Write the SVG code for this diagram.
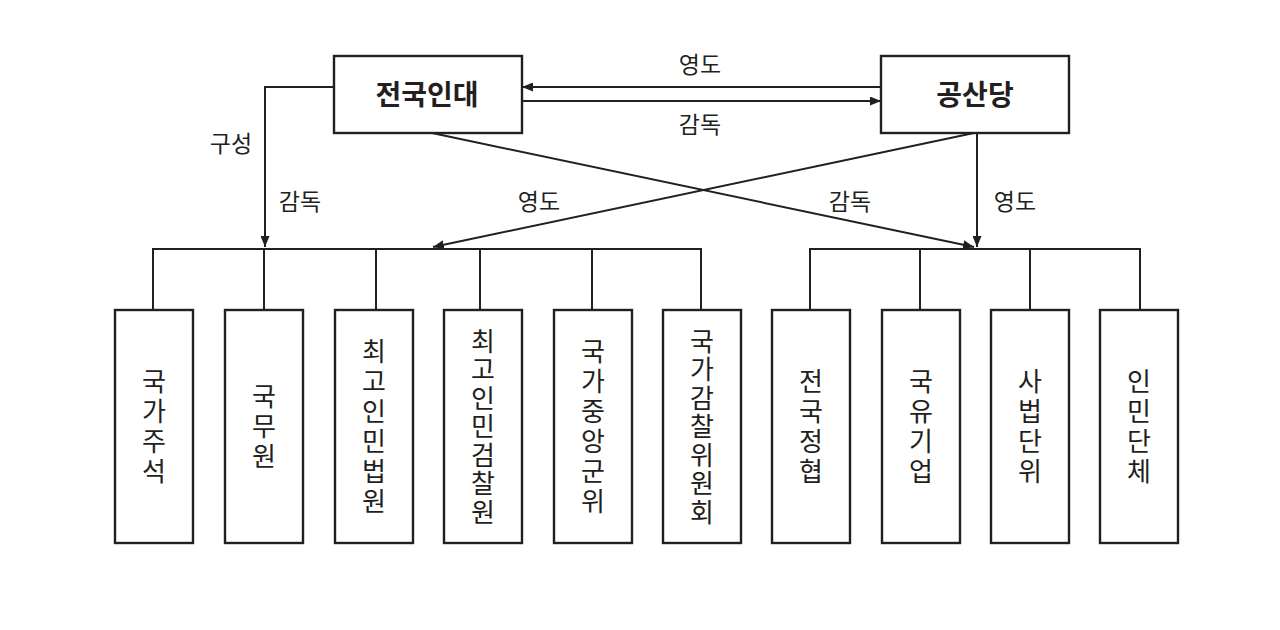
<svg xmlns="http://www.w3.org/2000/svg" width="1280" height="630" viewBox="0 0 1280 630">
<defs>
<marker id="ah" markerUnits="userSpaceOnUse" markerWidth="11" markerHeight="9" refX="11" refY="4.5" orient="auto">
<path d="M0,0 L11,4.5 L0,9 z" fill="#231f20"/>
</marker>
<style>
.box{fill:#fff;stroke:#231f20;stroke-width:2.4}
.ln{fill:none;stroke:#231f20;stroke-width:2}
.ar{fill:none;stroke:#231f20;stroke-width:2;marker-end:url(#ah)}
.t{font-family:"Noto Sans CJK KR","Noto Sans",sans-serif;fill:#231f20;text-anchor:middle}
.top{font-size:28px;font-weight:bold}
.lbl{font-size:23px}
.v{font-size:26px;writing-mode:vertical-rl;text-orientation:upright;letter-spacing:4px}
.v7{letter-spacing:2.5px}
</style>
</defs>
<rect width="1280" height="630" fill="#fff"/>
<g id="connectors">
<path class="ar" d="M881,87 H522"/>
<path class="ar" d="M522,101 H881"/>
<path class="ar" d="M333,87 H265 V247"/>
<path class="ar" d="M432,133 L974,247"/>
<path class="ar" d="M974,133 L433,247"/>
<path class="ar" d="M977,133 V247"/>
<path class="ln" d="M153,310 V249 H701 V310 M264,249 V310 M376,249 V310 M480,249 V310 M592,249 V310"/>
<path class="ln" d="M810,310 V249 H1140 V310 M920,249 V310 M1030,249 V310"/>
<text class="t lbl" x="700" y="73">영도</text>
<text class="t lbl" x="700" y="133">감독</text>
<text class="t lbl" x="231" y="152">구성</text>
<text class="t lbl" x="300" y="210">감독</text>
<text class="t lbl" x="539" y="210">영도</text>
<text class="t lbl" x="850" y="210">감독</text>
<text class="t lbl" x="1015" y="210">영도</text>
</g>
<g id="n-npc"><rect class="box" x="334" y="56" width="188" height="77"/><text class="t top" x="427" y="105">전국인대</text></g>
<g id="n-party"><rect class="box" x="881" y="56" width="188" height="77"/><text class="t top" x="975" y="105">공산당</text></g>
<g id="n1"><rect class="box" x="115" y="310" width="78" height="233"/><text class="t v" x="154" y="428.5">국가주석</text></g>
<g id="n2"><rect class="box" x="225" y="310" width="78" height="233"/><text class="t v" x="264" y="428.5">국무원</text></g>
<g id="n3"><rect class="box" x="335" y="310" width="78" height="233"/><text class="t v" x="374" y="428.5">최고인민법원</text></g>
<g id="n4"><rect class="box" x="444" y="310" width="78" height="233"/><text class="t v v7" x="483" y="427.5">최고인민검찰원</text></g>
<g id="n5"><rect class="box" x="554" y="310" width="78" height="233"/><text class="t v" x="593" y="428.5">국가중앙군위</text></g>
<g id="n6"><rect class="box" x="663" y="310" width="78" height="233"/><text class="t v v7" x="702" y="427.5">국가감찰위원회</text></g>
<g id="n7"><rect class="box" x="772" y="310" width="78" height="233"/><text class="t v" x="811" y="428.5">전국정협</text></g>
<g id="n8"><rect class="box" x="882" y="310" width="78" height="233"/><text class="t v" x="921" y="428.5">국유기업</text></g>
<g id="n9"><rect class="box" x="991" y="310" width="78" height="233"/><text class="t v" x="1030" y="428.5">사법단위</text></g>
<g id="n10"><rect class="box" x="1100" y="310" width="78" height="233"/><text class="t v" x="1139" y="428.5">인민단체</text></g>
</svg>
